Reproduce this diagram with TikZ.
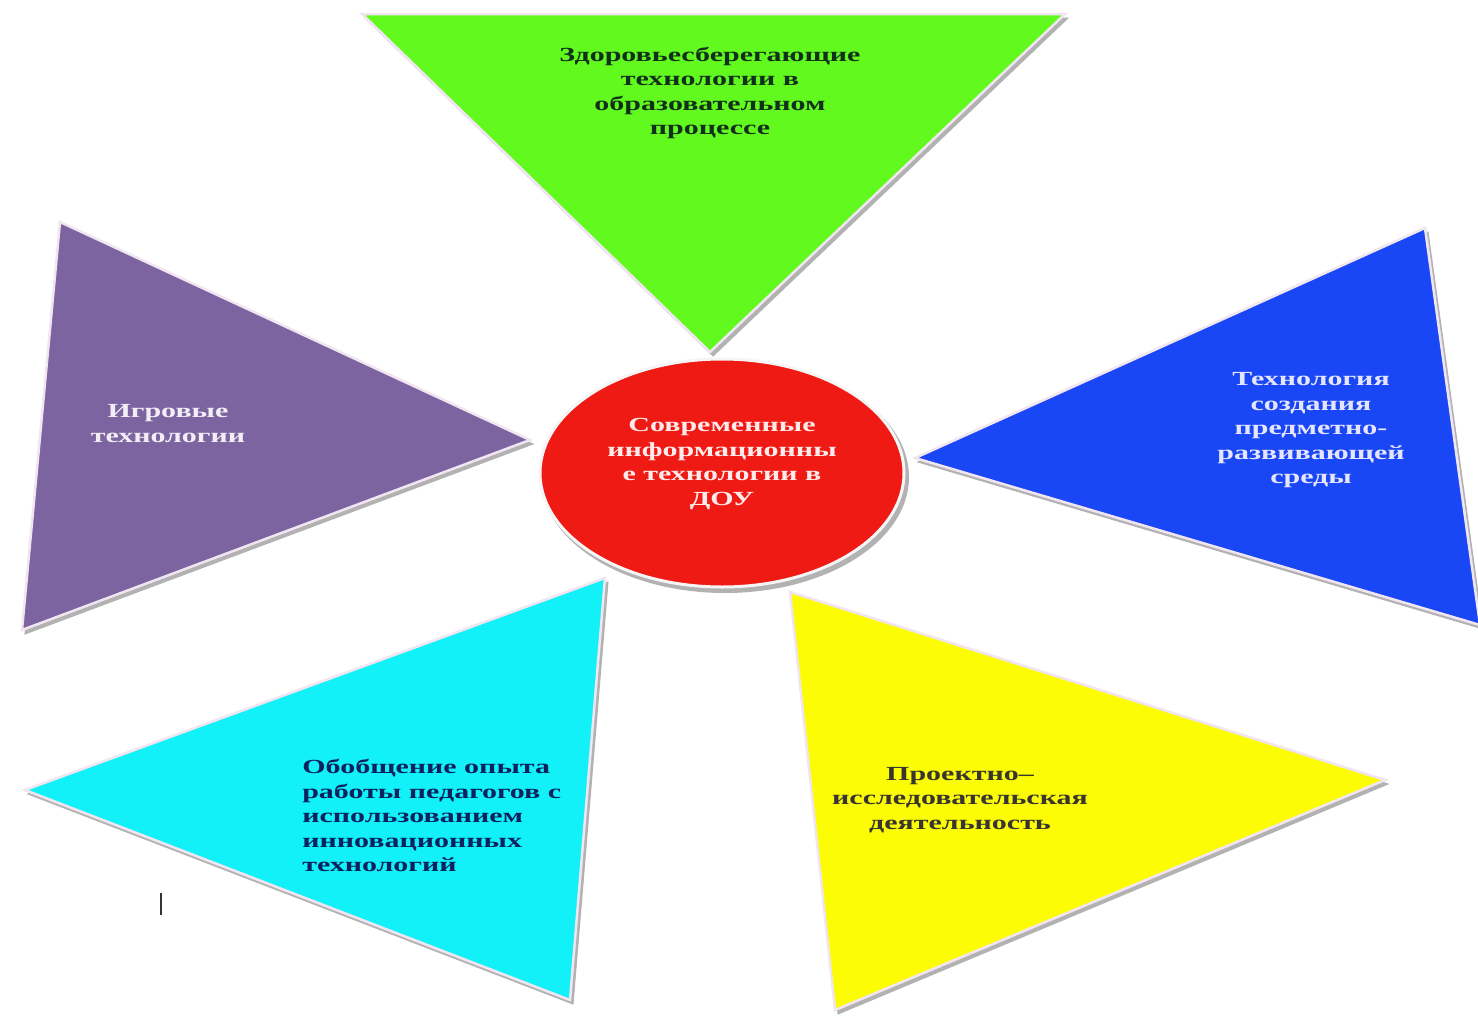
\documentclass[tikz,border=0pt]{standalone}
\usepackage{fontspec}
\setmainfont{Liberation Serif}
\definecolor{cgreen}{HTML}{62FA1E}
\definecolor{cpurple}{HTML}{7B64A0}
\definecolor{cblue}{HTML}{1A47F5}
\definecolor{cred}{HTML}{F01A14}
\definecolor{ccyan}{HTML}{12F0F8}
\definecolor{cyellow}{HTML}{FCFC04}
\definecolor{tdark}{HTML}{10301A}
\definecolor{tlight}{HTML}{F2EEF4}
\tikzset{
  shadowfill/.style={fill=gray!60, draw=gray!60, line width=1pt, line join=miter},
  tri/.style={draw=white!90!violet, line width=2.5pt, line join=miter},
  lbl/.style={font=\fontsize{20}{24.5}\selectfont\bfseries, align=center, xscale=1.5, inner sep=0pt},
  sh/.style={xshift=3pt, yshift=-4pt},
}
\begin{document}
\begin{tikzpicture}[x=1pt,y=-1pt]
\useasboundingbox[fill=white] (0,0) rectangle (1478,1017);

% corner coordinates
\coordinate (g1) at (362,14);  \coordinate (g2) at (1065,14); \coordinate (g3) at (710,352);
\coordinate (p1) at (60,222);  \coordinate (p2) at (22,630);  \coordinate (p3) at (530,440);
\coordinate (b1) at (1425,228); \coordinate (b2) at (1480,625); \coordinate (b3) at (915,458);
\coordinate (c1) at (605,578); \coordinate (c2) at (25,790);  \coordinate (c3) at (570,1000);
\coordinate (y1) at (790,592); \coordinate (y2) at (835,1010); \coordinate (y3) at (1385,780);
\coordinate (rc) at (722,473);

% shadows
\filldraw[shadowfill] ([sh]g1) -- ([sh]g2) -- ([sh]g3) -- cycle;
\filldraw[shadowfill] ([sh]p1) -- ([sh]p2) -- ([sh]p3) -- cycle;
\filldraw[shadowfill] ([sh]b1) -- ([sh]b2) -- ([sh]b3) -- cycle;
\filldraw[shadowfill] ([sh]c1) -- ([sh]c2) -- ([sh]c3) -- cycle;
\filldraw[shadowfill] ([sh]y1) -- ([sh]y2) -- ([sh]y3) -- cycle;
\fill[gray!60] ([sh]rc) ellipse [x radius=184, y radius=116];

% triangles
\filldraw[tri, fill=cgreen]  (g1) -- (g2) -- (g3) -- cycle;
\filldraw[tri, fill=cpurple] (p1) -- (p2) -- (p3) -- cycle;
\filldraw[tri, fill=cblue]   (b1) -- (b2) -- (b3) -- cycle;
\filldraw[tri, fill=ccyan]   (c1) -- (c2) -- (c3) -- cycle;
\filldraw[tri, fill=cyellow] (y1) -- (y2) -- (y3) -- cycle;

% centre
\filldraw[fill=cred, draw=white!92!gray, line width=3pt] (rc) ellipse [x radius=182, y radius=114];

% labels
\node[lbl, text=tdark] (tg) at (710,93) {Здоровьесберегающие\\технологии  в\\образовательном\\процессе};
\node[lbl, text=white!92!red] (tr) at (722,464) {Современные\\информационны\\е технологии в\\ДОУ};
\node[lbl, text=white!90!blue] (tb) at (1311,430.5) {Технология\\создания\\предметно-\\развивающей\\среды};
\node[lbl, text=tlight] (tp) at (168,423.5) {Игровые\\технологии};
\node[lbl, text=tdark!70!blue, align=left, anchor=west] (tc) at (302,815.5) {Обобщение опыта\\работы педагогов с\\использованием\\инновационных\\технологий};
\node[lbl, text=black!90!yellow] (ty) at (960,800) {Проектно–\\исследовательская\\деятельность};

% small cursor mark
\coordinate (m1) at (161,893); \coordinate (m2) at (161,915);
\draw[black!80, line width=1.6pt] (m1) -- (m2);
\end{tikzpicture}
\end{document}
